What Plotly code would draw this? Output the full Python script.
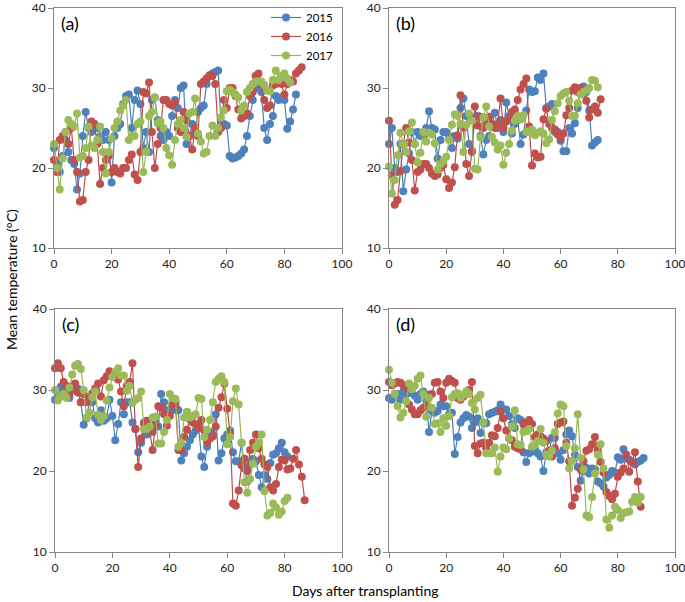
import plotly.graph_objects as go

years = ["2015", "2016", "2017"]
panel_labels = ["(a)", "(b)", "(c)", "(d)"]
x_ticks = [0, 20, 40, 60, 80, 100]
y_ticks = [10, 20, 30, 40]

# Panel (a)
a_2015 = [22.5, 20.5, 19.5, 21.5, 23.5, 22, 21, 20.5, 17.3, 19.3, 24, 27, 25, 24.5, 25.5, 25, 24, 23.5, 24.5, 23.5,
          18.2, 24, 25, 25.5, 28, 29, 29.2, 25, 28.5, 29.7, 28, 22.5, 24.5, 22, 28.5, 28.8, 26, 24, 23.5, 24.5,
          24, 26.5, 28.5, 27.5, 30, 30.3, 23, 24, 25.5, 24.5, 27, 27.5, 27.8, 30.5, 31.5, 31.8, 32, 32.2, 25.5, 25.5,
          25.3, 21.5, 21.2, 21.3, 21.5, 21.8, 22.3, 24, 26.5, 28.5, 30, 30.5, 29.5, 25, 23.5, 25.5, 26.5, 29, 28.5, 28.8,
          28.5, 24.9, 25.8, 27.3, 29.2]
a_2016 = [21, 19.5, 23.5, 24, 24.5, 23, 25, 21, 19.5, 15.8, 16, 19.5, 21, 25.8, 25.5, 23, 18, 20, 21, 21.5,
          19.5, 20, 19.5, 19.3, 20, 20, 21, 21.7, 19.2, 18.5, 22, 29.5, 29.3, 30.7, 24.5, 20, 23, 25, 28.5, 28.5,
          28, 27.8, 28.2, 25, 24.5, 27, 26, 24, 22.3, 25, 24, 30.5, 30.8, 31.2, 31.6, 31.5, 30.5, 24.5, 25, 28.5,
          27.5, 30, 30, 29, 27.3, 26.2, 26.5, 26.8, 29, 29.5, 31.5, 31.8, 30.5, 28.5, 27.5, 27.8, 30.3, 30.5, 30.8, 30.5,
          29.2, 30.5, 31, 30.8, 31.8, 32.2, 32.6]
a_2017 = [23, 20, 17.3, 21.2, 24.5, 26, 25.5, 25.2, 26.8, 21.3, 21.5, 22.5, 25.2, 22.8, 22.5, 23.5, 25.2, 22, 19.3, 22,
          23.7, 25, 25.8, 27.2, 27.8, 28.5, 23.5, 24, 24, 25.5, 25.8, 19.5, 22, 26.5, 27, 28.8, 25.6, 25.8, 25, 22.5,
          21.6, 20.4, 23.5, 25.5, 26, 25, 23.9, 26.8, 27, 28.7, 24.3, 23.3, 21.8, 22, 24, 25.3, 24, 25, 26.3, 27.2,
          29.6, 29.8, 29.5, 29.2, 28.8, 27.2, 27.8, 29.5, 30, 30.5, 30.8, 30.8, 30.8, 30.4, 29.7, 29.6, 31, 32.2, 31, 31.5,
          31.8, 31.2, 30.7]

# Panel (b)
b_2015 = [23, 25, 20, 19.5, 23, 17.1, 19.8, 21.8, 24.5, 23, 24.5, 24, 24, 25, 27.1, 25, 24.8, 21.2, 23.5, 24.5,
          24.5, 24, 22.5, 24, 23.7, 27.5, 28.7, 26.5, 23, 22, 26.3, 26.5, 24, 21.7, 23.5, 24, 25.5, 26.9, 25, 26,
          24.5, 28.2, 26.5, 24.3, 25.5, 26, 23, 24.2, 27.2, 29.8, 29.5, 29.6, 31.3, 31, 31.8, 27.5, 27.7, 28, 24.5, 24.5,
          23.4, 22.1, 22.1, 25, 24.3, 25.6, 27.5, 30, 30.2, 29.5, 27.2, 22.8, 23.2, 23.5]
b_2016 = [25.9, 19.1, 15.4, 16, 19.6, 23, 25, 23.2, 21, 17.2, 19.5, 19.8, 20.5, 20.5, 20, 19.3, 19, 19.2, 20, 20.4,
          18.6, 17.5, 18.2, 20.1, 24.1, 29.1, 25, 20.5, 19, 22.1, 27.7, 25.3, 26.4, 25, 25.5, 26.4, 25.5, 25, 25.5, 28.7,
          25, 25.8, 26.2, 27, 27.3, 28.5, 29.8, 30.5, 31.2, 25.2, 20.3, 21.8, 21.3, 21.4, 26.1, 27.4, 25.5, 25, 24.8, 24.2,
          23.7, 24.3, 26.6, 27.5, 29.7, 30.1, 29.5, 30, 29.3, 28.4, 26.3, 27.3, 27.7, 26.9, 28.6]
b_2017 = [20.2, 16.8, 18.5, 21.6, 24.4, 23, 22, 24.6, 25.7, 23, 20.7, 21.9, 24.5, 23.3, 24.4, 24.2, 23.1, 19.8, 20.5, 20.8,
          21.4, 23.5, 25.4, 26.7, 26.5, 25.5, 22, 25.4, 26.8, 25.9, 19.9, 19.8, 23.8, 26.3, 27.7, 25.2, 23.9, 23.2, 22.3, 22.8,
          20.4, 21.9, 23, 24.7, 25.9, 26.5, 26.1, 26.6, 24.5, 24.6, 24.8, 24.1, 24.4, 24.6, 24.3, 23.1, 23.6, 26, 27.1, 28.1,
          29, 29.3, 29.5, 28.4, 26.5, 26.5, 28.1, 29.2, 29.5, 29.7, 30, 31, 30.9, 30.1]

# Panel (c)
c_2015 = [28.8, 29.2, 30.4, 29.8, 30, 29, 30, 30.2, 30.2, 28.5, 25.7, 26.5, 28.6, 28.5, 26.5, 26, 27.5, 26.2, 26.5, 28.8,
          26.8, 23.8, 25.8, 28.5, 27, 28.5, 28.5, 26, 25.2, 22.3, 23.5, 26, 24.5, 25, 24.8, 26.1, 25.5, 29.5, 28.5, 27.5,
          27.5, 27.5, 28.5, 27.5, 21.3, 22.2, 23, 23.8, 24.5, 25, 25.5, 21.8, 20.5, 23, 24.8, 24.5, 27, 21.3, 22.2, 24,
          24.5, 25, 22.3, 21.2, 21.2, 23.5, 20.3, 18.7, 20.8, 21.5, 21.2, 19.5, 18, 19.5, 19, 21, 22, 22.2, 22.8, 23.5,
          22.3, 21.8]
c_2016 = [32.7, 33.3, 32.7, 31, 30.5, 29.5, 30.5, 30.8, 29.7, 28.5, 29.5, 28.5, 29, 29.6, 30.2, 30.8, 29.2, 31.2, 31.7, 32.3,
          32, 31.6, 31.3, 29.8, 28, 30.5, 31, 33.3, 25.2, 20.5, 24, 25.8, 26.2, 25, 22.6, 25.6, 28, 27.8, 27, 25.6,
          26.8, 28.2, 28, 22.6, 22.6, 24.2, 25.1, 26.4, 26, 25.8, 25.3, 26.3, 25, 23.5, 24, 24.3, 25.5, 27.8, 29.1, 30.8,
          27.7, 24.7, 16, 15.7, 17.6, 20.7, 21.5, 20, 22.6, 23.5, 24.5, 22.8, 21.5, 20.8, 20.5, 18, 17.6, 18.4, 20.5, 21.4,
          21.3, 20.2, 20.3, 21.5, 22.6, 20.8, 19.3, 16.4]
c_2017 = [30, 28.7, 29.2, 29.5, 29, 30.3, 31.9, 33, 33.2, 32.6, 30, 26.6, 27.2, 29.1, 29.8, 26.9, 26.3, 26.8, 28.7, 30.3,
          31.6, 32.2, 32.7, 31.8, 31.8, 29.9, 30.5, 28.4, 28.8, 29, 29.8, 25.2, 25.2, 25.5, 26.6, 26.7, 23.4, 23.4, 24.8, 26.3,
          29.5, 29, 28.9, 23, 23.5, 26.6, 27.3, 26.6, 26.8, 27, 29, 28.9, 24.2, 25.1, 26.3, 28.5, 31, 31.4, 31.7, 31,
          23.3, 24.2, 28.6, 30.2, 28.2, 23.5, 18.6, 17.3, 19, 20.9, 23, 23.5, 24.5, 17.5, 14.5, 14.8, 16, 15.5, 14.6, 15,
          16.3, 16.7]

# Panel (d)
d_2015 = [29, 28.8, 29.5, 29.5, 28.8, 29.8, 29.5, 30.2, 29.6, 29.3, 28.8, 29.5, 29.8, 28.7, 24.8, 27.4, 27.2, 27.4, 28.2, 28,
          28, 27, 27.2, 22.1, 24.2, 26, 26.5, 26.9, 26.7, 25.3, 26, 26.5, 24.7, 26, 25.9, 27, 27.2, 27.3, 27.5, 28.2,
          27.6, 27.6, 26.8, 25.8, 25.3, 26.5, 26.3, 22.3, 21.1, 22.2, 22.4, 22.8, 22.2, 21.8, 20, 22.3, 22.5, 24.1, 24.1, 22.2,
          21.4, 22.6, 24.5, 25, 24.3, 22, 20.5, 18.8, 20, 20.4, 19.7, 20.3, 20.2, 18.7, 18.5, 18.1, 19.2, 19.5, 20, 19.8,
          21.7, 21.4, 22.7, 21.6, 21.4, 21.1, 20.8, 21.1, 21.3, 21.6]
d_2016 = [31, 30.6, 30.8, 31, 30.9, 30.6, 30.4, 28.2, 27.6, 27, 27, 27.5, 27.8, 28, 29.4, 29.5, 30.9, 31, 29.8, 29,
          30.9, 31.4, 31.1, 30.9, 29, 28.8, 29.2, 29.5, 30, 31, 23.1, 22.2, 23.4, 23.5, 22.8, 23.5, 24.4, 24.3, 25.3, 27.3,
          26.5, 25, 24, 23.8, 23, 22.8, 22.7, 25.8, 26, 26.3, 25.8, 24.2, 24.5, 24.3, 24, 23.7, 22.5, 21.8, 22.8, 25.8,
          26, 26.1, 23.5, 21.2, 15.7, 16.7, 17.8, 20.2, 21.2, 22.5, 22.7, 23.3, 24.2, 22.6, 21.1, 19.8, 17.4, 16.9, 16.5, 17.2,
          19.3, 19.8, 20.3, 22, 19.9, 21.1, 22.3, 18.7, 15.6]
d_2017 = [32.5, 30.9, 29.5, 28, 26.6, 27.2, 28.6, 30.8, 30.1, 30.5, 31.4, 31.8, 29.5, 26.7, 29, 27.8, 25.8, 25.9, 24.8, 26.5,
          25.6, 26.8, 29.1, 29.5, 29.6, 29, 29.4, 29.8, 29.5, 28.4, 27.6, 29, 29.4, 26, 22.2, 22.2, 22.2, 22.9, 19.9, 21.8,
          22.9, 22.7, 24, 25.5, 27.5, 23.3, 23.2, 24.8, 24.9, 25.2, 23, 23.2, 23.7, 25.2, 23.5, 22, 21.8, 22.5, 24.8, 27.1,
          28.2, 28, 23.1, 20.3, 21.2, 22.8, 27, 21.6, 20.2, 14.5, 14.3, 16.8, 19.7, 22, 23.3, 20.3, 14, 13, 14.5, 15.6,
          15.2, 14.2, 14.8, 14.9, 15, 16.2, 16.8, 16.1, 16.8]

panels = [
    [a_2015, a_2016, a_2017],
    [b_2015, b_2016, b_2017],
    [c_2015, c_2016, c_2017],
    [d_2015, d_2016, d_2017],
]

line_colors = ["#4A7EBB", "#BE4B48", "#98B954"]
marker_colors = ["#4F81BD", "#C0504D", "#9BBB59"]

W, H = 685, 602
# plot-area pixel boxes (left, right, top, bottom)
boxes = [(54, 342, 8, 248), (389, 675, 8, 248), (55, 342, 309, 552), (389, 675, 309, 552)]

fig = go.Figure()
font_family = "Lato, 'Open Sans', sans-serif"

for i, series in enumerate(panels):
    xa = "x" if i == 0 else f"x{i+1}"
    ya = "y" if i == 0 else f"y{i+1}"
    for j, vals in enumerate(series):
        fig.add_trace(go.Scatter(
            x=list(range(len(vals))), y=vals, mode="lines+markers",
            name=years[j], showlegend=(i == 0),
            line=dict(color=line_colors[j], width=1.2),
            marker=dict(color=marker_colors[j], size=8, line=dict(width=0)),
            xaxis=xa, yaxis=ya, cliponaxis=False,
        ))

axis_common = dict(showgrid=False, zeroline=False, showline=True, linecolor="#868686", linewidth=1,
                   mirror=True, ticks="outside", ticklen=5, tickcolor="#868686", automargin=False,
                   ticklabeloverflow="allow",
                   tickfont=dict(family=font_family, size=12, color="#222"))

layout_axes = {}
for i, (l, r, t, b) in enumerate(boxes):
    xk = "xaxis" if i == 0 else f"xaxis{i+1}"
    yk = "yaxis" if i == 0 else f"yaxis{i+1}"
    xa = "x" if i == 0 else f"x{i+1}"
    ya = "y" if i == 0 else f"y{i+1}"
    layout_axes[xk] = dict(axis_common, domain=[l / W, r / W], range=[0, 100], tickvals=x_ticks,
                           anchor=ya)
    layout_axes[yk] = dict(axis_common, domain=[1 - b / H, 1 - t / H], range=[10, 40], tickvals=y_ticks,
                           anchor=xa)

annotations = []
for i, (l, r, t, b) in enumerate(boxes):
    annotations.append(dict(text=panel_labels[i], xref="paper", yref="paper",
                            x=(l + 5) / W, y=1 - (t + 15) / H, xanchor="left", yanchor="middle",
                            showarrow=False, font=dict(family=font_family, size=18, color="#000")))
annotations.append(dict(text="Mean temperature (°C)", xref="paper", yref="paper", x=12 / W, y=1 - 280 / H,
                        textangle=-90, showarrow=False, xanchor="center", yanchor="middle",
                        font=dict(family=font_family, size=14, color="#000")))
annotations.append(dict(text="Days after transplanting", xref="paper", yref="paper", x=365 / W, y=1 - 590 / H,
                        showarrow=False, xanchor="center", yanchor="middle",
                        font=dict(family=font_family, size=14, color="#000")))

fig.update_layout(
    width=W, height=H, autosize=False,
    margin=dict(l=0, r=0, t=0, b=0, autoexpand=False),
    paper_bgcolor="white", plot_bgcolor="white",
    showlegend=True,
    legend=dict(x=266 / W, y=1 - 3 / H, xanchor="left", yanchor="top", bgcolor="rgba(0,0,0,0)",
                font=dict(family=font_family, size=11.5, color="#000"), tracegroupgap=0),
    annotations=annotations,
    **layout_axes,
)

fig.write_html("out.html", config={"displayModeBar": False},
               post_script="document.body.style.margin='0';document.body.style.overflow='hidden';")
